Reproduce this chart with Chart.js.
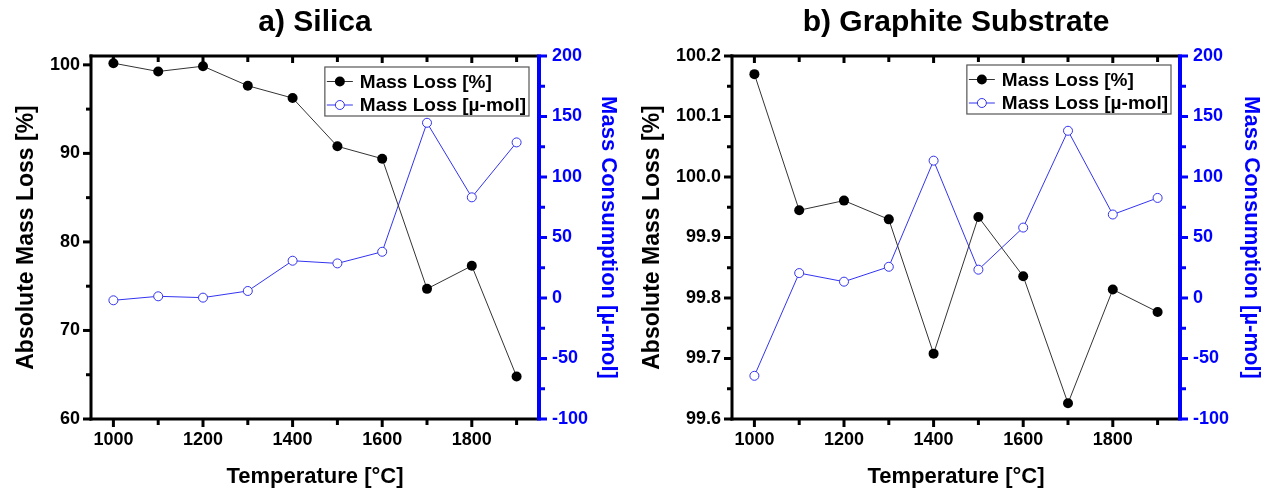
<!DOCTYPE html>
<html>
<head>
<meta charset="utf-8">
<style>
  html, body { margin: 0; padding: 0; background: #fff; }
  #wrap { position: relative; width: 1270px; height: 490px; }
  .panel { position: absolute; top: 0; width: 635px; height: 490px; }
</style>
</head>
<body>
<div id="wrap">
  <div class="panel" style="left:0"><canvas id="silicaChart" width="635" height="490"></canvas></div>
  <div class="panel" style="left:635px"><canvas id="graphiteChart" width="635" height="490"></canvas></div>
</div>
<script src="https://cdn.jsdelivr.net/npm/chart.js"></script>
<script>
// measured data, temperature in degC
var temperatures = [1000, 1100, 1200, 1300, 1400, 1500, 1600, 1700, 1800, 1900];

var silicaLossPct  = [100.19, 99.25, 99.85, 97.64, 96.25, 90.8, 89.4, 74.7, 77.3, 64.8];
var silicaLossUmol = [-1.9, 1.4, 0.3, 5.8, 30.8, 28.6, 38.2, 144.8, 83.2, 128.6];

var graphiteLossPct  = [100.170, 99.945, 99.961, 99.930, 99.708, 99.934, 99.836, 99.626, 99.814, 99.777];
var graphiteLossUmol = [-64.3, 20.6, 13.5, 25.8, 113.5, 23.4, 58.2, 138.2, 69.0, 82.7];

// tick positions
var tempMajor = [1000, 1200, 1400, 1600, 1800];
var tempMinor = [1100, 1300, 1500, 1700, 1900];
var silicaPctMajor = [60, 70, 80, 90, 100];
var silicaPctMinor = [65, 75, 85, 95];
var graphitePctMajor = [99.6, 99.7, 99.8, 99.9, 100.0, 100.1, 100.2];
var graphitePctMinor = [99.65, 99.75, 99.85, 99.95, 100.05, 100.15];
var umolMajor = [-100, -50, 0, 50, 100, 150, 200];
var umolMinor = [-75, -25, 25, 75, 125, 175];

var BLUE = '#0000ff';
var FONT = 'Liberation Sans, Arial, sans-serif';

Chart.defaults.font.family = FONT;

// axis frame + inner/outer tick marks drawn on the chart scales
var axisFrame = {
  id: 'axisFrame',
  afterDatasetsDraw: function (chart, args, opts) {
    var ctx = chart.ctx, a = chart.chartArea;
    var sx = chart.scales.x, sy = chart.scales.y, sy1 = chart.scales.y1;
    function seg(x1, y1, x2, y2) {
      ctx.beginPath(); ctx.moveTo(x1, y1); ctx.lineTo(x2, y2); ctx.stroke();
    }
    ctx.save();
    ctx.lineCap = 'butt';
    ctx.strokeStyle = '#000';
    ctx.lineWidth = 3;
    tempMajor.forEach(function (v) {
      var px = sx.getPixelForValue(v);
      seg(px, a.bottom, px, a.bottom + 8);
      seg(px, a.top, px, a.top + 7);
    });
    tempMinor.forEach(function (v) {
      var px = sx.getPixelForValue(v);
      seg(px, a.bottom, px, a.bottom + 6);
      seg(px, a.top, px, a.top + 6);
    });
    opts.pctMajor.forEach(function (v) {
      var py = sy.getPixelForValue(v);
      seg(a.left - 8, py, a.left, py);
    });
    opts.pctMinor.forEach(function (v) {
      var py = sy.getPixelForValue(v);
      seg(a.left - 5, py, a.left, py);
    });
    seg(a.left - 1.5, a.top, a.right, a.top);
    seg(a.left, a.top - 1.5, a.left, a.bottom + 1.5);
    seg(a.left - 1.5, a.bottom, a.right, a.bottom);

    ctx.strokeStyle = BLUE;
    umolMajor.forEach(function (v) {
      var py = sy1.getPixelForValue(v);
      seg(a.right, py, a.right + 8, py);
    });
    umolMinor.forEach(function (v) {
      var py = sy1.getPixelForValue(v);
      seg(a.right, py, a.right + 6, py);
    });
    ctx.lineWidth = 4;
    seg(a.right, a.top - 1.5, a.right, a.bottom + 1.5);
    ctx.restore();
  }
};

// boxed legend in the upper right of the plot
var boxLegend = {
  id: 'boxLegend',
  afterDraw: function (chart, args, opts) {
    var ctx = chart.ctx, a = chart.chartArea;
    var sets = chart.data.datasets;
    ctx.save();
    ctx.font = 'bold 19px ' + FONT;
    var textW = 0;
    sets.forEach(function (ds) { textW = Math.max(textW, ctx.measureText(ds.label).width); });
    var w = 35 + textW + 3, h = 49;
    var left = a.right - opts.right - w, top = a.top + opts.top;
    ctx.fillStyle = '#fff';
    ctx.fillRect(left, top, w, h);
    ctx.strokeStyle = '#555';
    ctx.lineWidth = 1.2;
    ctx.strokeRect(left, top, w, h);
    sets.forEach(function (ds, i) {
      var cy = top + 14.5 + i * 23.5;
      ctx.strokeStyle = ds.borderColor;
      ctx.lineWidth = 1;
      ctx.beginPath(); ctx.moveTo(left + 2, cy); ctx.lineTo(left + 28, cy); ctx.stroke();
      ctx.beginPath();
      ctx.arc(left + 15, cy, ds.pointRadius, 0, Math.PI * 2);
      ctx.fillStyle = ds.pointBackgroundColor;
      ctx.fill();
      if (ds.pointBorderWidth) {
        ctx.strokeStyle = ds.pointBorderColor;
        ctx.lineWidth = ds.pointBorderWidth;
        ctx.stroke();
      }
      ctx.fillStyle = '#000';
      ctx.textBaseline = 'middle';
      ctx.textAlign = 'left';
      ctx.fillText(ds.label, left + 35, cy + 1);
    });
    ctx.restore();
  }
};

function pairs(xs, ys) {
  return xs.map(function (x, i) { return { x: x, y: ys[i] }; });
}

function buildChart(id, p) {
  return new Chart(document.getElementById(id), {
    type: 'line',
    data: {
      datasets: [{
        label: 'Mass Loss [%]',
        data: pairs(temperatures, p.pct),
        yAxisID: 'y',
        borderColor: '#333333',
        borderWidth: 1,
        pointRadius: 5,
        pointBackgroundColor: '#000',
        pointBorderColor: '#000',
        pointBorderWidth: 0
      }, {
        label: 'Mass Loss [\u00b5-mol]',
        data: pairs(temperatures, p.umol),
        yAxisID: 'y1',
        borderColor: '#3333f0',
        borderWidth: 1,
        pointRadius: 4.5,
        pointBackgroundColor: '#fff',
        pointBorderColor: '#3333f0',
        pointBorderWidth: 1
      }]
    },
    options: {
      responsive: false,
      animation: false,
      layout: { padding: 0 },
      plugins: {
        legend: { display: false },
        tooltip: { enabled: false },
        title: {
          display: true,
          text: p.title,
          fullSize: false,
          color: '#000',
          font: { size: 30, weight: 'bold' },
          padding: { top: 5, bottom: 15 }
        },
        axisFrame: { pctMajor: p.pctMajor, pctMinor: p.pctMinor },
        boxLegend: p.legend
      },
      scales: {
        x: {
          type: 'linear',
          min: 950,
          max: 1950,
          afterBuildTicks: function (s) { s.ticks = tempMajor.map(function (v) { return { value: v }; }); },
          afterFit: function (s) { s.height = 71; },
          grid: { display: false, drawTicks: false },
          border: { display: false },
          ticks: {
            autoSkip: false, maxRotation: 0, padding: 10, color: '#000',
            font: { size: 18, weight: 'bold' },
            callback: function (v) { return String(v); }
          },
          title: {
            display: true, text: 'Temperature [\u00b0C]', color: '#000',
            font: { size: 22, weight: 'bold' }, padding: { top: 0, bottom: 0 }
          }
        },
        y: {
          position: 'left',
          min: p.pctMin,
          max: p.pctMax,
          afterBuildTicks: function (s) { s.ticks = p.pctMajor.map(function (v) { return { value: v }; }); },
          afterFit: function (s) { s.width = p.leftW; },
          grid: { display: false, drawTicks: false },
          border: { display: false },
          ticks: {
            padding: 11, color: '#000', font: { size: 18, weight: 'bold' },
            callback: function (v) { return p.pctDigits ? v.toFixed(p.pctDigits) : String(v); }
          },
          title: {
            display: true, text: 'Absolute Mass Loss [%]', color: '#000',
            font: { size: 23, weight: 'bold' }, padding: { top: p.leftTitlePad, bottom: 0 }
          }
        },
        y1: {
          position: 'right',
          min: -100,
          max: 200,
          afterBuildTicks: function (s) { s.ticks = umolMajor.map(function (v) { return { value: v }; }); },
          afterFit: function (s) { s.width = p.rightW; },
          grid: { display: false, drawTicks: false },
          border: { display: false },
          ticks: { padding: 13, color: BLUE, font: { size: 18, weight: 'bold' } },
          title: {
            display: true, text: 'Mass Consumption [\u00b5-mol]', color: BLUE,
            font: { size: 22, weight: 'bold' }, padding: { top: p.rightTitlePad, bottom: 0 }
          }
        }
      }
    },
    plugins: [axisFrame, boxLegend]
  });
}

buildChart('silicaChart', {
  title: 'a) Silica',
  pct: silicaLossPct, umol: silicaLossUmol,
  pctMin: 60, pctMax: 101, pctDigits: 0,
  pctMajor: silicaPctMajor, pctMinor: silicaPctMinor,
  leftW: 91, rightW: 96, leftTitlePad: 13, rightTitlePad: 14,
  legend: { right: 10, top: 11 }
});

buildChart('graphiteChart', {
  title: 'b) Graphite Substrate',
  pct: graphiteLossPct, umol: graphiteLossUmol,
  pctMin: 99.6, pctMax: 100.2, pctDigits: 1,
  pctMajor: graphitePctMajor, pctMinor: graphitePctMinor,
  leftW: 97, rightW: 90, leftTitlePad: 4, rightTitlePad: 6,
  legend: { right: 9, top: 9 }
});
</script>
</body>
</html>
